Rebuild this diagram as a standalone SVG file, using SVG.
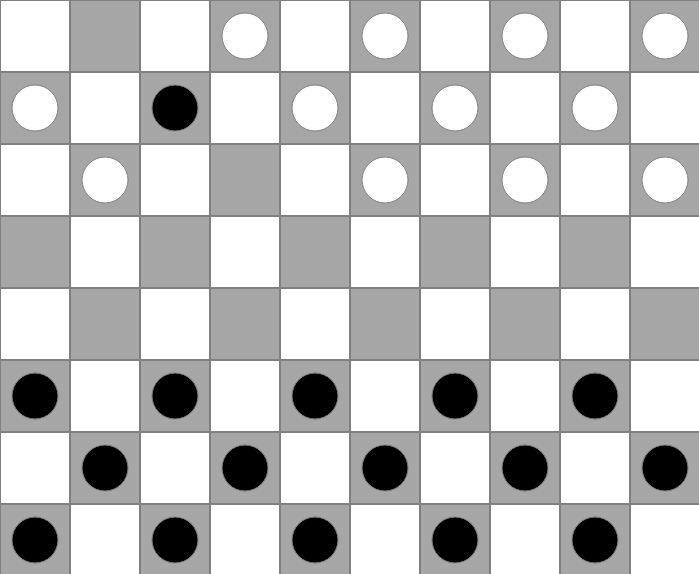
<svg xmlns="http://www.w3.org/2000/svg" width="699" height="574" viewBox="0 0 699 574">
<style>
.w{fill:#ffffff;stroke:#808080;stroke-width:2}
.d{fill:#a6a6a6;stroke:#808080;stroke-width:2}
.pw{fill:#ffffff;stroke:#808080;stroke-width:1}
.pb{fill:#000000;stroke:#808080;stroke-width:1}
</style>
<g id="board">
<rect class="w" x="0" y="0" width="70" height="72"/><rect class="d" x="70" y="0" width="70" height="72"/><rect class="w" x="140" y="0" width="70" height="72"/><rect class="d" x="210" y="0" width="70" height="72"/><rect class="w" x="280" y="0" width="70" height="72"/><rect class="d" x="350" y="0" width="70" height="72"/><rect class="w" x="420" y="0" width="70" height="72"/><rect class="d" x="490" y="0" width="70" height="72"/><rect class="w" x="560" y="0" width="70" height="72"/><rect class="d" x="630" y="0" width="70" height="72"/>
<rect class="d" x="0" y="72" width="70" height="72"/><rect class="w" x="70" y="72" width="70" height="72"/><rect class="d" x="140" y="72" width="70" height="72"/><rect class="w" x="210" y="72" width="70" height="72"/><rect class="d" x="280" y="72" width="70" height="72"/><rect class="w" x="350" y="72" width="70" height="72"/><rect class="d" x="420" y="72" width="70" height="72"/><rect class="w" x="490" y="72" width="70" height="72"/><rect class="d" x="560" y="72" width="70" height="72"/><rect class="w" x="630" y="72" width="70" height="72"/>
<rect class="w" x="0" y="144" width="70" height="72"/><rect class="d" x="70" y="144" width="70" height="72"/><rect class="w" x="140" y="144" width="70" height="72"/><rect class="d" x="210" y="144" width="70" height="72"/><rect class="w" x="280" y="144" width="70" height="72"/><rect class="d" x="350" y="144" width="70" height="72"/><rect class="w" x="420" y="144" width="70" height="72"/><rect class="d" x="490" y="144" width="70" height="72"/><rect class="w" x="560" y="144" width="70" height="72"/><rect class="d" x="630" y="144" width="70" height="72"/>
<rect class="d" x="0" y="216" width="70" height="72"/><rect class="w" x="70" y="216" width="70" height="72"/><rect class="d" x="140" y="216" width="70" height="72"/><rect class="w" x="210" y="216" width="70" height="72"/><rect class="d" x="280" y="216" width="70" height="72"/><rect class="w" x="350" y="216" width="70" height="72"/><rect class="d" x="420" y="216" width="70" height="72"/><rect class="w" x="490" y="216" width="70" height="72"/><rect class="d" x="560" y="216" width="70" height="72"/><rect class="w" x="630" y="216" width="70" height="72"/>
<rect class="w" x="0" y="288" width="70" height="72"/><rect class="d" x="70" y="288" width="70" height="72"/><rect class="w" x="140" y="288" width="70" height="72"/><rect class="d" x="210" y="288" width="70" height="72"/><rect class="w" x="280" y="288" width="70" height="72"/><rect class="d" x="350" y="288" width="70" height="72"/><rect class="w" x="420" y="288" width="70" height="72"/><rect class="d" x="490" y="288" width="70" height="72"/><rect class="w" x="560" y="288" width="70" height="72"/><rect class="d" x="630" y="288" width="70" height="72"/>
<rect class="d" x="0" y="360" width="70" height="72"/><rect class="w" x="70" y="360" width="70" height="72"/><rect class="d" x="140" y="360" width="70" height="72"/><rect class="w" x="210" y="360" width="70" height="72"/><rect class="d" x="280" y="360" width="70" height="72"/><rect class="w" x="350" y="360" width="70" height="72"/><rect class="d" x="420" y="360" width="70" height="72"/><rect class="w" x="490" y="360" width="70" height="72"/><rect class="d" x="560" y="360" width="70" height="72"/><rect class="w" x="630" y="360" width="70" height="72"/>
<rect class="w" x="0" y="432" width="70" height="72"/><rect class="d" x="70" y="432" width="70" height="72"/><rect class="w" x="140" y="432" width="70" height="72"/><rect class="d" x="210" y="432" width="70" height="72"/><rect class="w" x="280" y="432" width="70" height="72"/><rect class="d" x="350" y="432" width="70" height="72"/><rect class="w" x="420" y="432" width="70" height="72"/><rect class="d" x="490" y="432" width="70" height="72"/><rect class="w" x="560" y="432" width="70" height="72"/><rect class="d" x="630" y="432" width="70" height="72"/>
<rect class="d" x="0" y="504" width="70" height="72"/><rect class="w" x="70" y="504" width="70" height="72"/><rect class="d" x="140" y="504" width="70" height="72"/><rect class="w" x="210" y="504" width="70" height="72"/><rect class="d" x="280" y="504" width="70" height="72"/><rect class="w" x="350" y="504" width="70" height="72"/><rect class="d" x="420" y="504" width="70" height="72"/><rect class="w" x="490" y="504" width="70" height="72"/><rect class="d" x="560" y="504" width="70" height="72"/><rect class="w" x="630" y="504" width="70" height="72"/>
</g>
<g id="pieces">
<circle class="pw" cx="245" cy="36" r="23"/><circle class="pw" cx="385" cy="36" r="23"/><circle class="pw" cx="525" cy="36" r="23"/><circle class="pw" cx="665" cy="36" r="23"/>
<circle class="pw" cx="35" cy="108" r="23"/><circle class="pb" cx="175" cy="108" r="23"/><circle class="pw" cx="315" cy="108" r="23"/><circle class="pw" cx="455" cy="108" r="23"/><circle class="pw" cx="595" cy="108" r="23"/>
<circle class="pw" cx="105" cy="180" r="23"/><circle class="pw" cx="385" cy="180" r="23"/><circle class="pw" cx="525" cy="180" r="23"/><circle class="pw" cx="665" cy="180" r="23"/>
<circle class="pb" cx="35" cy="396" r="23"/><circle class="pb" cx="175" cy="396" r="23"/><circle class="pb" cx="315" cy="396" r="23"/><circle class="pb" cx="455" cy="396" r="23"/><circle class="pb" cx="595" cy="396" r="23"/>
<circle class="pb" cx="105" cy="468" r="23"/><circle class="pb" cx="245" cy="468" r="23"/><circle class="pb" cx="385" cy="468" r="23"/><circle class="pb" cx="525" cy="468" r="23"/><circle class="pb" cx="665" cy="468" r="23"/>
<circle class="pb" cx="35" cy="540" r="23"/><circle class="pb" cx="175" cy="540" r="23"/><circle class="pb" cx="315" cy="540" r="23"/><circle class="pb" cx="455" cy="540" r="23"/><circle class="pb" cx="595" cy="540" r="23"/>
</g>
</svg>
